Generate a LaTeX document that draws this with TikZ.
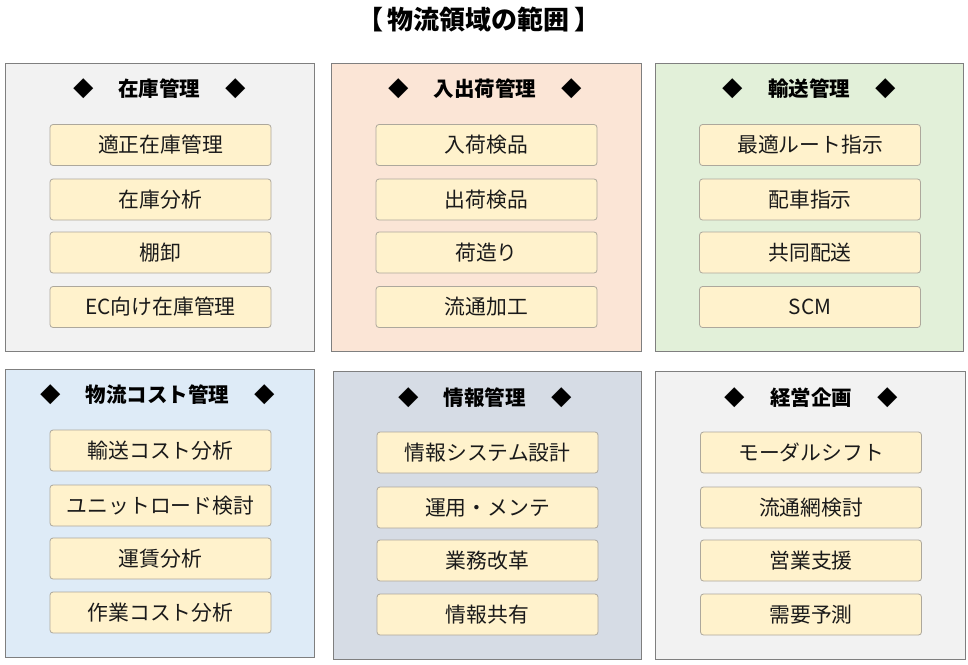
\documentclass[tikz,border=0pt]{standalone}
\usepackage{fontspec}
\newfontfamily\cjk{Noto Sans CJK JP}
\definecolor{pgray}{HTML}{F2F2F2}
\definecolor{ppeach}{HTML}{FBE5D6}
\definecolor{pgreen}{HTML}{E2F0D9}
\definecolor{pblue}{HTML}{DEEBF7}
\definecolor{pslate}{HTML}{D6DCE5}
\definecolor{boxfill}{HTML}{FFF2CC}
\definecolor{pborder}{HTML}{7F7F7F}
\definecolor{bborder}{HTML}{ADA89C}
\definecolor{txt}{HTML}{1A1A1A}
\begin{document}
\begin{tikzpicture}[x=1pt,y=-1pt,
  panel/.style={draw=pborder,line width=1pt,anchor=north west,inner sep=0pt,outer sep=0pt},
  item/.style={draw=bborder,line width=0.8pt,fill=boxfill,rounded corners=3pt,minimum width=221pt,minimum height=41pt,inner sep=0pt,font=\cjk\fontsize{20.8}{24}\selectfont,text=txt},
  head/.style={font=\cjk\bfseries\fontsize{20.5}{24}\selectfont,inner sep=0pt},
  ttl/.style={font=\cjk\bfseries\fontsize{26}{30}\selectfont,inner sep=0pt}]
\useasboundingbox[fill=white] (0,0) rectangle (968,664);
\newcommand\hd[1]{◆\hspace{25pt}#1\hspace{25pt}◆}
\node[ttl] (title) at (479,20) {【\hspace{5pt}物流領域の範囲\hspace{5pt}】};
% panel 1
\node[panel,fill=pgray,minimum width=309pt,minimum height=288pt] (p1) at (5,63) {};
\node[head] (h1) at (159.5,89) {\hd{在庫管理}};
\node[item] (a1) at (160.5,145) {適正在庫管理};
\node[item] (a2) at (160.5,199.5) {在庫分析};
\node[item] (a3) at (160.5,252.5) {棚卸};
\node[item] (a4) at (160.5,307) {EC向け在庫管理};
% panel 2
\node[panel,fill=ppeach,minimum width=310pt,minimum height=288pt] (p2) at (331,63) {};
\node[head] (h2) at (485,89) {\hd{入出荷管理}};
\node[item] (b1) at (486.5,145) {入荷検品};
\node[item] (b2) at (486.5,199.5) {出荷検品};
\node[item] (b3) at (486.5,252.5) {荷造り};
\node[item] (b4) at (486.5,307) {流通加工};
% panel 3
\node[panel,fill=pgreen,minimum width=308pt,minimum height=288pt] (p3) at (655,63) {};
\node[head] (h3) at (809,89) {\hd{輸送管理}};
\node[item] (c1) at (810,145) {最適ルート指示};
\node[item] (c2) at (810,199.5) {配車指示};
\node[item] (c3) at (810,252.5) {共同配送};
\node[item] (c4) at (810,307) {SCM};
% panel 4
\node[panel,fill=pblue,minimum width=309pt,minimum height=288pt] (p4) at (5,369) {};
\node[head] (h4) at (157.5,395) {\hd{物流コスト管理}};
\node[item] (d1) at (160.5,450.5) {輸送コスト分析};
\node[item] (d2) at (160.5,505.5) {ユニットロード検討};
\node[item] (d3) at (160.5,558.5) {運賃分析};
\node[item] (d4) at (160.5,612.5) {作業コスト分析};
% panel 5
\node[panel,fill=pslate,minimum width=308pt,minimum height=288pt] (p5) at (333,371) {};
\node[head] (h5) at (485,398) {\hd{情報管理}};
\node[item] (e1) at (487.5,452.5) {情報システム設計};
\node[item] (e2) at (487.5,507.5) {運用・メンテ};
\node[item] (e3) at (487.5,560.5) {業務改革};
\node[item] (e4) at (487.5,614.5) {情報共有};
% panel 6
\node[panel,fill=pgray,minimum width=310pt,minimum height=288pt] (p6) at (655,371) {};
\node[head] (h6) at (811,398) {\hd{経営企画}};
\node[item] (f1) at (811,452.5) {モーダルシフト};
\node[item] (f2) at (811,507.5) {流通網検討};
\node[item] (f3) at (811,560.5) {営業支援};
\node[item] (f4) at (811,614.5) {需要予測};
\end{tikzpicture}
\end{document}
